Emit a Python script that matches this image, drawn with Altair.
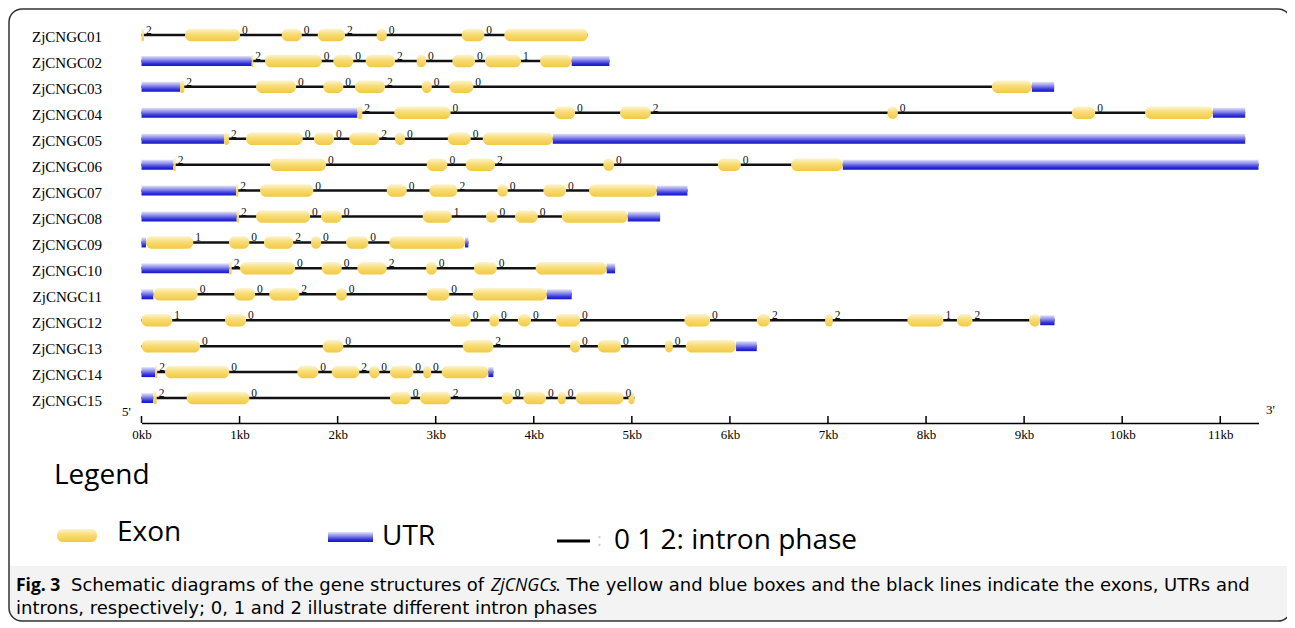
import json
import altair as alt
import pandas as pd

# ---------------- data (kb) ----------------
GENES = ["ZjCNGC01", "ZjCNGC02", "ZjCNGC03", "ZjCNGC04", "ZjCNGC05",
         "ZjCNGC06", "ZjCNGC07", "ZjCNGC08", "ZjCNGC09", "ZjCNGC10",
         "ZjCNGC11", "ZjCNGC12", "ZjCNGC13", "ZjCNGC14", "ZjCNGC15"]

EXONS_01 = [(0.0, 0.025), (0.444, 1.005), (1.43, 1.634), (1.797, 2.075), (2.399, 2.501), (3.266, 3.496), (3.70, 4.551)]
UTRS_01 = []
PHASES_01 = [2, 0, 0, 2, 0, 0]

EXONS_02 = [(1.124, 1.14), (1.26, 1.838), (1.956, 2.16), (2.286, 2.585), (2.806, 2.902), (3.17, 3.401), (3.503, 3.87), (4.064, 4.387)]
UTRS_02 = [(0.0, 1.124), (4.387, 4.771)]
PHASES_02 = [2, 0, 0, 2, 0, 0, 1]

EXONS_03 = [(0.393, 0.437), (1.168, 1.576), (1.854, 2.058), (2.177, 2.483), (2.858, 2.96), (3.139, 3.384), (8.671, 9.079)]
UTRS_03 = [(0.0, 0.393), (9.079, 9.306)]
PHASES_03 = [2, 0, 0, 2, 0, 0]

EXONS_04 = [(2.2, 2.252), (2.578, 3.152), (4.21, 4.421), (4.88, 5.193), (7.607, 7.712), (9.487, 9.725), (10.234, 10.925)]
UTRS_04 = [(0.0, 2.2), (10.925, 11.254)]
PHASES_04 = [2, 0, 0, 2, 0, 0]

EXONS_05 = [(0.841, 0.892), (1.066, 1.644), (1.759, 1.963), (2.119, 2.425), (2.585, 2.687), (3.123, 3.357), (3.48, 4.194)]
UTRS_05 = [(0.0, 0.841), (4.194, 11.254)]
PHASES_05 = [2, 0, 0, 2, 0, 0]

EXONS_06 = [(0.324, 0.349), (1.311, 1.882), (2.909, 3.119), (3.307, 3.605), (4.71, 4.819), (5.877, 6.111), (6.624, 7.151)]
UTRS_06 = [(0.0, 0.324), (7.151, 11.39)]
PHASES_06 = [2, 0, 0, 2, 0, 0]

EXONS_07 = [(0.964, 0.987), (1.209, 1.752), (2.501, 2.705), (2.935, 3.221), (3.629, 3.735), (4.098, 4.329), (4.564, 5.254)]
UTRS_07 = [(0.0, 0.964), (5.254, 5.567)]
PHASES_07 = [2, 0, 0, 2, 0, 0]

EXONS_08 = [(0.971, 0.994), (1.168, 1.719), (1.831, 2.042), (2.868, 3.164), (3.514, 3.629), (3.809, 4.041), (4.286, 4.959)]
UTRS_08 = [(0.0, 0.971), (4.959, 5.288)]
PHASES_08 = [2, 0, 0, 1, 0, 0]

EXONS_09 = [(0.046, 0.528), (0.892, 1.099), (1.249, 1.548), (1.729, 1.831), (2.086, 2.313), (2.527, 3.299)]
UTRS_09 = [(0.0, 0.046), (3.299, 3.333)]
PHASES_09 = [1, 0, 2, 0, 0]

EXONS_10 = [(0.895, 0.92), (1.005, 1.566), (1.838, 2.042), (2.201, 2.501), (2.902, 3.011), (3.391, 3.623), (4.02, 4.744)]
UTRS_10 = [(0.0, 0.895), (4.744, 4.829)]
PHASES_10 = [2, 0, 0, 2, 0, 0]

EXONS_11 = [(0.12, 0.573), (0.946, 1.158), (1.303, 1.609), (1.984, 2.093), (2.909, 3.139), (3.378, 4.133)]
UTRS_11 = [(0.0, 0.12), (4.133, 4.387)]
PHASES_11 = [0, 0, 2, 0, 0]

EXONS_12 = [(0.0, 0.314), (0.852, 1.066), (3.146, 3.357), (3.547, 3.646), (3.837, 3.972), (4.227, 4.472),
            (5.536, 5.798), (6.274, 6.41), (6.971, 7.049), (7.81, 8.177), (8.314, 8.473), (9.052, 9.164)]
UTRS_12 = [(9.164, 9.31)]
PHASES_12 = [1, 0, 0, 0, 0, 0, 0, 2, 2, 1, 2]

EXONS_13 = [(0.0, 0.597), (1.848, 2.058), (3.276, 3.588), (4.37, 4.472), (4.653, 4.89), (5.339, 5.418), (5.55, 6.063)]
UTRS_13 = [(6.063, 6.274)]
PHASES_13 = [0, 0, 2, 0, 0, 0]

EXONS_14 = [(0.138, 0.161), (0.24, 0.895), (1.589, 1.803), (1.94, 2.221), (2.323, 2.425), (2.534, 2.772), (2.874, 2.953), (3.062, 3.537)]
UTRS_14 = [(0.0, 0.138), (3.537, 3.588)]
PHASES_14 = [2, 0, 0, 2, 0, 0, 0]

EXONS_15 = [(0.12, 0.155), (0.461, 1.099), (2.534, 2.746), (2.84, 3.153), (3.674, 3.786), (3.894, 4.125), (4.245, 4.326), (4.428, 4.914), (4.965, 5.026)]
UTRS_15 = [(0.0, 0.12)]
PHASES_15 = [2, 0, 0, 2, 0, 0, 0, 0]

TICKS_KB = [0, 1, 2, 3, 4, 5, 6, 7, 8, 9, 10, 11]
AXIS_MAX_KB = 11.39

ALL_EXONS = [EXONS_01, EXONS_02, EXONS_03, EXONS_04, EXONS_05, EXONS_06, EXONS_07, EXONS_08,
             EXONS_09, EXONS_10, EXONS_11, EXONS_12, EXONS_13, EXONS_14, EXONS_15]
ALL_UTRS = [UTRS_01, UTRS_02, UTRS_03, UTRS_04, UTRS_05, UTRS_06, UTRS_07, UTRS_08,
            UTRS_09, UTRS_10, UTRS_11, UTRS_12, UTRS_13, UTRS_14, UTRS_15]
ALL_PHASES = [PHASES_01, PHASES_02, PHASES_03, PHASES_04, PHASES_05, PHASES_06, PHASES_07, PHASES_08,
              PHASES_09, PHASES_10, PHASES_11, PHASES_12, PHASES_13, PHASES_14, PHASES_15]

# ---------------- tables ----------------
exon_rows, utr_rows, intron_rows, phase_rows = [], [], [], []
for i, gene in enumerate(GENES):
    ex, ut, ph = ALL_EXONS[i], ALL_UTRS[i], ALL_PHASES[i]
    for s, e in ex:
        exon_rows.append({"row": i, "start": s, "end": e})
    for s, e in ut:
        utr_rows.append({"row": i, "start": s, "end": e})
    pts = [p for seg in ex + ut for p in seg]
    intron_rows.append({"row": i, "start": min(pts), "end": max(pts)})
    for k, p in enumerate(ph):
        phase_rows.append({"row": i, "pos": ex[k][1], "phase": str(p)})

exon_df = pd.DataFrame(exon_rows)
utr_df = pd.DataFrame(utr_rows)
intron_df = pd.DataFrame(intron_rows)
phase_df = pd.DataFrame(phase_rows)
tick_df = pd.DataFrame({"kb": TICKS_KB})

# ---------------- layout ----------------
W, H = 1117, 389
PAD_L, PAD_T, PAD_R, PAD_B = 133.5, 14, 28.5, 217
X0, Y0 = 8 + PAD_L, 8 + PAD_T   # page coords of plot origin

SERIF = "Liberation Serif"
SANS = "Open Sans"
CAPFONT = "DejaVu Sans"

xscale = alt.Scale(domain=[0, AXIS_MAX_KB], nice=False, zero=False, padding=0)
yscale = alt.Scale(domain=[-0.5, 14.5], reverse=True, nice=False, zero=False, padding=0)

xaxis = alt.Axis(values=TICKS_KB, labelExpr="datum.value + 'kb'", offset=12, ticks=False,
                 grid=False, title=None, domainColor="black", domainWidth=1.5,
                 labelFlush=False, labelOverlap=False,
                 labelFont=SERIF, labelFontSize=13, labelColor="black", labelPadding=5)
yaxis = alt.Axis(values=list(range(len(GENES))),
                 labelExpr=json.dumps(GENES).replace('"', "'") + "[datum.value]",
                 domain=False, ticks=False, grid=False, title=None, labelOffset=2,
                 labelFlush=False, labelOverlap=False,
                 labelFont=SERIF, labelFontSize=15, labelColor="black", labelPadding=40)


def X(field):
    return alt.X(field, type="quantitative", scale=xscale, axis=xaxis)


def Y(field):
    return alt.Y(field, type="quantitative", scale=yscale, axis=yaxis)


exon_grad = alt.LinearGradient(
    gradient="linear", x1=0, y1=0, x2=0, y2=1,
    stops=[alt.GradientStop(offset=0, color="#fdf4cf"),
           alt.GradientStop(offset=0.45, color="#f8dc74"),
           alt.GradientStop(offset=1, color="#f1c944")])
utr_grad = alt.LinearGradient(
    gradient="linear", x1=0, y1=0, x2=0, y2=1,
    stops=[alt.GradientStop(offset=0, color="#e4e4fa"),
           alt.GradientStop(offset=0.4, color="#8a8aea"),
           alt.GradientStop(offset=0.75, color="#3434da"),
           alt.GradientStop(offset=1, color="#1414c8")])

introns = alt.Chart(intron_df).mark_rule(color="#111111", strokeWidth=2.5).encode(
    x=X("start"), x2="end", y=Y("row"))
utrs = alt.Chart(utr_df).mark_bar(orient="horizontal", size=10, color=utr_grad).encode(
    x=X("start"), x2="end", y=Y("row"))
exons = alt.Chart(exon_df).mark_bar(orient="horizontal", size=12.5, cornerRadius=6,
                                    color=exon_grad).encode(
    x=X("start"), x2="end", y=Y("row"))
phases = alt.Chart(phase_df).mark_text(align="left", baseline="alphabetic", dx=2, dy=-1,
                                       font=SERIF, fontSize=11.5, color="#111111").encode(
    x=X("pos"), y=Y("row"), text="phase:N")
ticks = alt.Chart(tick_df).mark_rule(color="black", strokeWidth=1.5).encode(
    x=X("kb"), y=alt.value(H + 5), y2=alt.value(H + 12))


def one():
    return pd.DataFrame({"t": [""]})


def label(text, xp, yp, size, font, weight="normal", style="normal", color="black",
          align="left", baseline="middle"):
    return alt.Chart(pd.DataFrame({"t": [text]})).mark_text(
        align=align, baseline=baseline, font=font, fontSize=size, fontWeight=weight,
        fontStyle=style, color=color).encode(
        x=alt.value(xp - X0), y=alt.value(yp - Y0), text="t:N")


def box(x1, x2, y1, y2, **kw):
    return alt.Chart(one()).mark_rect(**kw).encode(
        x=alt.value(x1 - X0), x2=alt.value(x2 - X0),
        y=alt.value(y1 - Y0), y2=alt.value(y2 - Y0))


caption_bg = box(9, 1291, 566, 621, color="#f3f3f3",
                 cornerRadiusBottomLeft=12, cornerRadiusBottomRight=12)
frame = box(9, 1291, 9, 621, fillOpacity=0, stroke="#333333", strokeWidth=1.5, cornerRadius=13)

legend_exon = box(57, 97, 529, 542, color=exon_grad, cornerRadius=6)
legend_utr = box(328, 373, 532, 542, color=utr_grad)
legend_line = alt.Chart(one()).mark_rule(color="black", strokeWidth=3).encode(
    x=alt.value(557 - X0), x2=alt.value(590 - X0), y=alt.value(541 - Y0))

CAP = 18
L1, L2 = 586, 609
annotations = [
    label("5'", 122, 412, 13, SERIF),
    label("3'", 1266, 410, 13, SERIF),
    label("Legend", 54, 476, 28, SANS),
    label("Exon", 117, 533, 28, SANS),
    label("UTR", 382, 537, 28, SANS),
    label(":", 597, 541, 18, SANS, color="#cccccc"),
    label("0 1 2: intron phase", 614, 541, 28, SANS),
    label("Fig. 3", 16, L1, 17.5, SANS, weight="bold"),
    label("Schematic diagrams of the gene structures of", 71, L1, CAP, CAPFONT),
    label("ZjCNGCs", 491, L1, 17.5, SANS, style="italic"),
    label(". The yellow and blue boxes and the black lines indicate the exons, UTRs and",
          555, L1, CAP, CAPFONT),
    label("introns, respectively; 0, 1 and 2 illustrate different intron phases",
          16, L2, CAP, CAPFONT),
]

chart = alt.layer(
    caption_bg, introns, utrs, exons, phases, ticks,
    legend_exon, legend_utr, legend_line, *annotations, frame
).properties(
    width=W, height=H,
    autosize=alt.AutoSizeParams(type="none"),
    padding={"left": PAD_L, "top": PAD_T, "right": PAD_R, "bottom": PAD_B},
    background="white",
).configure_view(stroke=None)

chart.save("out.html", embed_options={"renderer": "svg", "actions": False})
